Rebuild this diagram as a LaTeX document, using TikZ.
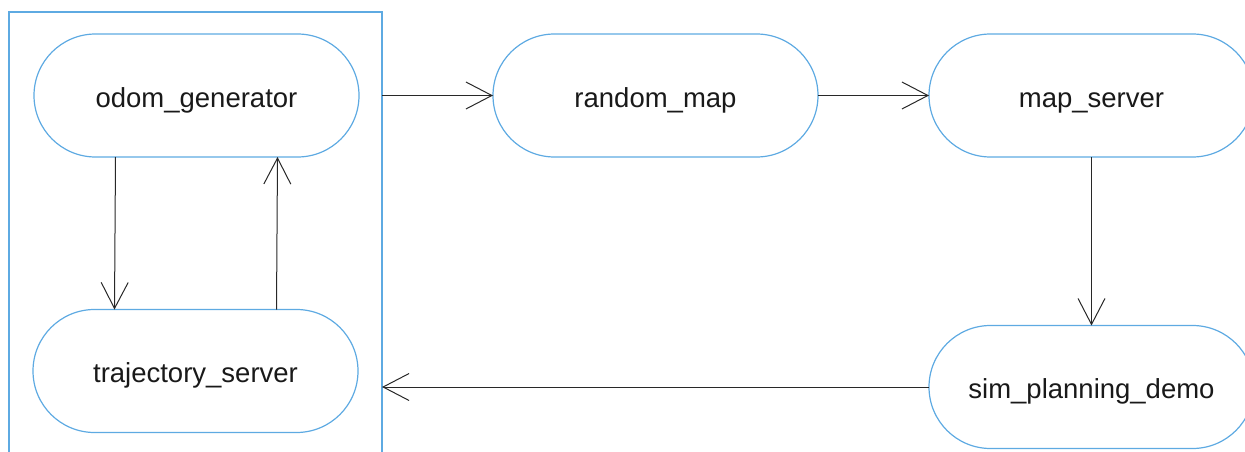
\documentclass[tikz,border=0pt]{standalone}
\usepackage{fontspec}
\setmainfont{Liberation Sans}
\usetikzlibrary{arrows.meta}
\definecolor{nodeblue}{RGB}{94,170,226}
\definecolor{arrowgray}{RGB}{40,40,40}
\begin{document}
\begin{tikzpicture}[x=1pt,y=-1pt,
  proc/.style={draw=nodeblue, line width=1.2pt, minimum width=325pt, minimum height=123pt,
    rounded corners=61.5pt, inner sep=0pt, outer sep=0pt, text height=23pt, text depth=0pt,
    font=\fontsize{27.5}{32}\selectfont, text=black!90},
  box/.style={draw=nodeblue, line width=1.2pt, inner sep=0pt, outer sep=0pt},
  conn/.style={draw=arrowgray, line width=1pt, -{Straight Barb[length=26pt,width=27pt]}},
]
\useasboundingbox (0,0) rectangle (1245,452);
\clip (0,0) rectangle (1245,452);
\node[box, minimum width=373pt, minimum height=480pt, anchor=north west] (cont) at (9,12) {};
\node[proc] (odom) at (196.5,95.5) {odom\_generator};
\node[proc] (traj) at (195.5,371) {trajectory\_server};
\node[proc] (rmap) at (655.5,95.5) {random\_map};
\node[proc] (mserv) at (1091.5,95.5) {map\_server};
\node[proc] (sim) at (1091.5,387) {sim\_planning\_demo};
\draw[conn] (odom.east -| cont.east) -- (rmap.west);
\draw[conn] (rmap) -- (mserv);
\draw[conn] (mserv.south) -- (sim.north);
\draw[conn] (sim.west) -- (sim.west -| cont.east);
\draw[conn] ([xshift=-81pt]odom.south) -- ([xshift=-81pt]traj.north);
\draw[conn] ([xshift=81pt]traj.north) -- ([xshift=81pt]odom.south);
\end{tikzpicture}
\end{document}
